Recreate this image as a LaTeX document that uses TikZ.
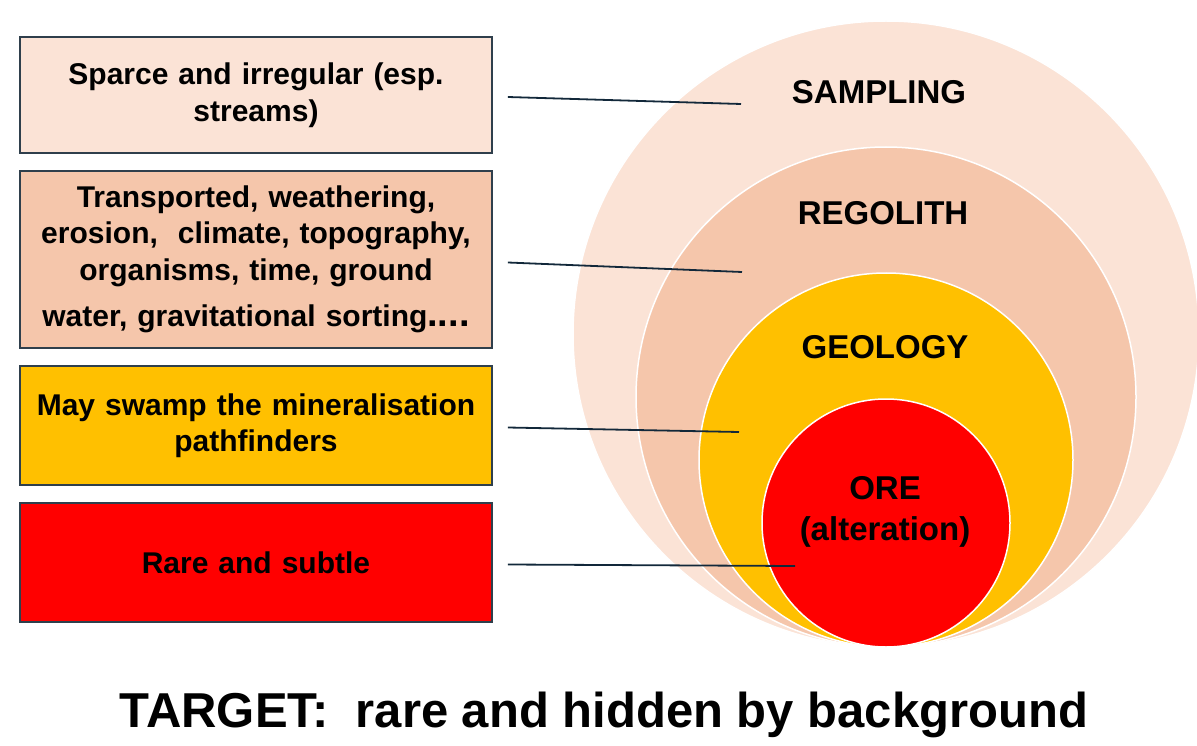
\documentclass[tikz,border=0pt]{standalone}
\usepackage{fontspec}
\setmainfont{Liberation Sans}
\usepackage{tikz}
\usetikzlibrary{calc}
\definecolor{samplefill}{HTML}{FBE3D6}
\definecolor{regofill}{HTML}{F5C6AB}
\definecolor{geofill}{HTML}{FFC000}
\definecolor{orefill}{HTML}{FF0000}
\definecolor{boxline}{HTML}{2F3F4C}
\definecolor{leadline}{HTML}{12283A}

\begin{document}
\begin{tikzpicture}[x=1pt,y=-1pt]
% node style definition
\tikzstyle{box} = [draw=boxline, line width=1.8pt, rectangle,
	minimum width=472pt, text width=452pt, align=center,
	font=\fontsize{30}{36.5}\selectfont\bfseries];
\tikzstyle{ring} = [draw=white, line width=1.5pt];
\tikzstyle{ringlabel} = [inner sep=0pt, align=center,
	font=\fontsize{33}{41}\selectfont\bfseries];
\tikzstyle{leader} = [draw=leadline, line width=1.8pt];

\useasboundingbox (0,0) rectangle (1197,746);

% nested circles, all touching at the bottom
\draw[ring, fill=samplefill] (886,334) circle[radius=313pt];
\draw[ring, fill=regofill] (886,397) circle[radius=250pt];
\draw[ring, fill=geofill] (886,460) circle[radius=187pt];
\draw[ring, fill=orefill] (886,523) circle[radius=124pt];

\node[ringlabel] (sampling) at (879,92) {SAMPLING};
\node[ringlabel] (regolith) at (883,213) {REGOLITH};
\node[ringlabel] (geology) at (885,347) {GEOLOGY};
\node[ringlabel] (ore) at (885,512) {ORE\\(alteration)};

% boxes on the left
\node[box, fill=samplefill, minimum height=116pt] (b1) at (256,95)
	{Sparce and irregular (esp.\\streams)};
\node[box, fill=regofill, minimum height=177pt] (b2) at (256,259.5)
	{Transported, weathering,\\erosion,\ \ climate, topography,\\organisms, time, ground\\[10pt]water, gravitational sorting{\fontsize{38}{38}\selectfont....}};
\node[box, fill=geofill, minimum height=119pt] (b3) at (256,425.5)
	{May swamp the mineralisation\\pathfinders};
\node[box, fill=orefill, minimum height=119pt] (b4) at (256,562.5)
	{Rare and subtle};

% leader lines
\coordinate (e1) at (741,104);
\coordinate (e2) at (742,272);
\coordinate (e3) at (739,432);
\coordinate (e4) at (795,566);
\draw[leader] ([shift={(15,2)}]b1.east) -- (e1);
\draw[leader] ([shift={(15,3)}]b2.east) -- (e2);
\draw[leader] ([shift={(15,2)}]b3.east) -- (e3);
\draw[leader] ([shift={(15,2)}]b4.east) -- (e4);

% caption
\node[inner sep=0pt, font=\fontsize{49}{49}\selectfont\bfseries] (caption) at (604,715)
	{TARGET:\ \ rare and hidden by background};

\end{tikzpicture}
\end{document}
